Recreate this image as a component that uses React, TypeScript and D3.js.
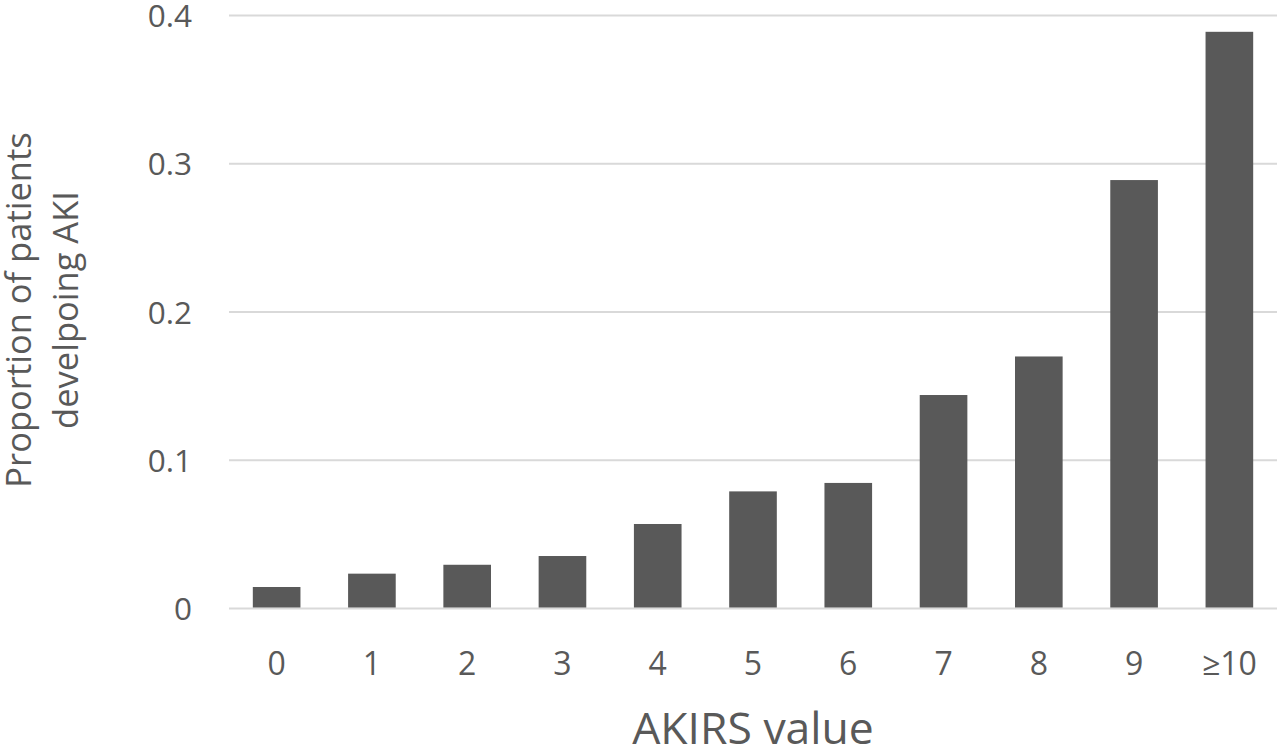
import React, { useEffect, useRef } from "react";
import * as d3 from "d3";

const categories = ["0", "1", "2", "3", "4", "5", "6", "7", "8", "9", "≥10"];
const proportions = [0.0145, 0.0235, 0.0295, 0.0354, 0.057, 0.079, 0.0847, 0.144, 0.17, 0.289, 0.389];
const yTicks = [0, 0.1, 0.2, 0.3, 0.4];

const App: React.FC = () => {
  const svgRef = useRef<SVGSVGElement | null>(null);

  useEffect(() => {
    document.body.style.margin = "0";
    const width = 1280;
    const height = 748;
    const margin = { top: 16, right: 3, bottom: 140, left: 229 };
    const font = "'Open Sans', 'Noto Sans', sans-serif";
    const textColor = "#595959";

    const svg = d3.select(svgRef.current);
    svg.selectAll("*").remove();
    svg.attr("width", width).attr("height", height);

    const x = d3
      .scaleBand<string>()
      .domain(categories)
      .range([margin.left, width - margin.right])
      .paddingInner(0.5)
      .paddingOuter(0.25);

    const y = d3
      .scaleLinear()
      .domain([0, 0.4])
      .range([height - margin.bottom + 0.5, margin.top - 0.5]);

    // gridlines
    svg
      .append("g")
      .selectAll("line")
      .data(yTicks)
      .enter()
      .append("line")
      .attr("x1", margin.left)
      .attr("x2", width - margin.right)
      .attr("y1", (d) => y(d))
      .attr("y2", (d) => y(d))
      .style("stroke", "#d9d9d9")
      .style("stroke-width", "2px");

    // bars
    svg
      .append("g")
      .selectAll("rect")
      .data(proportions)
      .enter()
      .append("rect")
      .attr("x", (d, i) => x(categories[i]) as number)
      .attr("width", x.bandwidth())
      .attr("y", (d) => y(d))
      .attr("height", (d) => y(0) - y(d) - 1)
      .style("fill", "#595959");

    // y tick labels
    svg
      .append("g")
      .selectAll("text")
      .data(yTicks)
      .enter()
      .append("text")
      .attr("x", 192)
      .attr("y", (d) => y(d) + 11.5)
      .attr("text-anchor", "end")
      .style("font-family", font)
      .style("font-size", "31.5px")
      .style("fill", textColor)
      .text((d) => (d === 0 ? "0" : d3.format(".1f")(d)));

    // x tick labels
    svg
      .append("g")
      .selectAll("text")
      .data(categories)
      .enter()
      .append("text")
      .attr("x", (d) => (x(d) as number) + x.bandwidth() / 2)
      .attr("y", 675)
      .attr("text-anchor", "middle")
      .style("font-family", font)
      .style("font-size", "32px")
      .style("fill", textColor)
      .text((d) => d);

    // x axis title
    svg
      .append("text")
      .attr("x", 753)
      .attr("y", 744)
      .attr("text-anchor", "middle")
      .style("font-family", font)
      .style("font-size", "44.5px")
      .style("fill", textColor)
      .text("AKIRS value");

    // y axis title, two lines
    const yTitle = svg
      .append("text")
      .attr("transform", "translate(0, 310) rotate(-90)")
      .attr("text-anchor", "middle")
      .style("font-family", font)
      .style("font-size", "34.5px")
      .style("fill", textColor);
    yTitle.append("tspan").attr("x", 0).attr("y", 31).text("Proportion of patients");
    yTitle.append("tspan").attr("x", 0).attr("y", 78).text("develpoing AKI");
  }, []);

  return <svg ref={svgRef} style={{ display: "block" }}></svg>;
};

export default App;
